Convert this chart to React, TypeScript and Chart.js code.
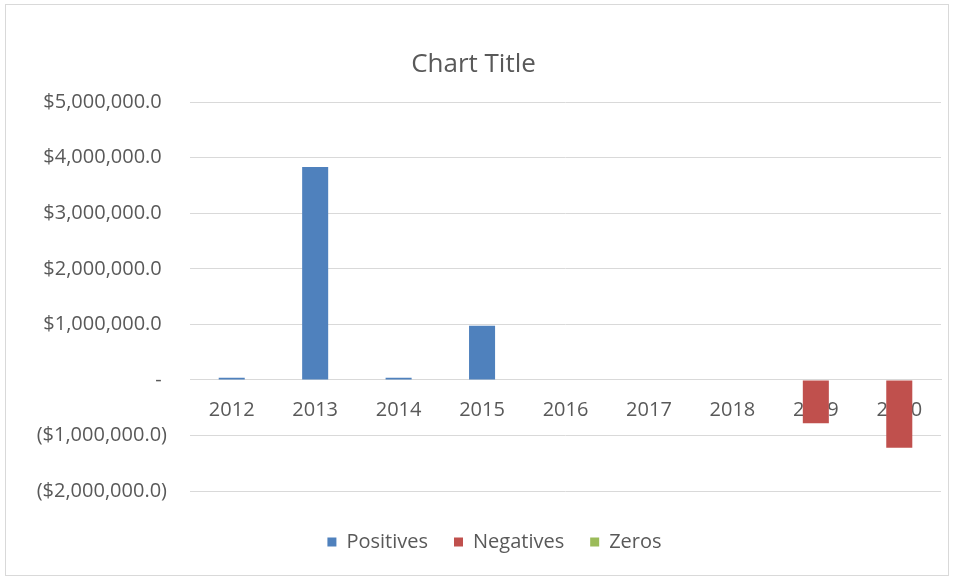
import React, { useEffect, useRef } from "react";
import { Chart, registerables } from "chart.js";

Chart.register(...registerables);

const categories = ["2012", "2013", "2014", "2015", "2016", "2017", "2018", "2019", "2020"];
const positives = [40000, 3835000, 40000, 975000, 0, 0, 0, 0, 0];
const negatives = [0, 0, 0, 0, 0, 0, 0, -780000, -1220000];
const zeros = [0, 0, 0, 0, 0, 0, 0, 0, 0];
const yMin = -2000000;
const yMax = 5000000;
const yStep = 1000000;

const TEXT = "#595959";
const GRID = "#d9d9d9";
const FONT = "'Open Sans', sans-serif";

function fmt(v: number): string {
  if (v === 0) return "- ";
  const s = "$" + Math.abs(v).toLocaleString("en-US", { minimumFractionDigits: 1, maximumFractionDigits: 1 });
  return v < 0 ? "(" + s + ")" : s + " ";
}

const shiftLegend = {
  id: "shiftLegend",
  afterLayout(chart: any) {
    const l = chart.legend;
    if (l) {
      l.left += 21;
      l.right += 21;
    }
  },
};

export default function App() {
  const ref = useRef<HTMLCanvasElement | null>(null);
  useEffect(() => {
    if (!ref.current) return;
    Chart.defaults.font.family = FONT;
    const chart = new Chart(ref.current, {
      type: "bar",
      data: {
        labels: categories,
        datasets: [
          { label: "Positives", data: positives, backgroundColor: "#4F81BD", barPercentage: 0.39, categoryPercentage: 0.8 },
          { label: "Negatives", data: negatives, backgroundColor: "#C0504D", barPercentage: 0.39, categoryPercentage: 0.8 },
          { label: "Zeros", data: zeros, backgroundColor: "#9BBB59", barPercentage: 0.39, categoryPercentage: 0.8 },
        ],
      },
      options: {
        animation: false,
        responsive: false,
        maintainAspectRatio: false,
        layout: { padding: { left: 0, right: 7, top: 0, bottom: 13 } },
        scales: {
          x: {
            stacked: true,
            position: { y: 0 } as any,
            grid: { display: false, drawTicks: false },
            border: { display: true, color: GRID, width: 1 },
            ticks: { color: TEXT, font: { size: 20 }, padding: 18, maxRotation: 0, autoSkip: false },
          },
          spacer: {
            type: "category",
            position: "bottom",
            grid: { display: false, drawTicks: false },
            border: { display: false },
            ticks: { display: false },
            afterFit: (s: any) => { s.height = 15; },
          } as any,
          y: {
            stacked: true,
            min: yMin,
            max: yMax,
            grid: { color: GRID, drawTicks: false },
            border: { display: false },
            ticks: { stepSize: yStep, color: TEXT, font: { size: 20 }, padding: 23, callback: (v: any) => fmt(Number(v)) },
            afterFit: (s: any) => { s.width = 184; },
          },
        },
        plugins: {
          title: {
            display: true,
            text: "Chart Title",
            color: TEXT,
            font: { size: 26, weight: "normal" as any },
            padding: { top: 44, bottom: 22 },
          },
          legend: {
            position: "bottom",
            labels: { boxWidth: 9, boxHeight: 9, color: TEXT, font: { size: 20 }, padding: 26 },
          },
          tooltip: { enabled: false },
        },
      },
      plugins: [shiftLegend],
    });
    return () => chart.destroy();
  }, []);
  return (
    <div style={{ position: "fixed", left: 0, top: 0, width: 959, height: 579, background: "#fff" }}>
      <div style={{ position: "absolute", left: 5, top: 4, width: 944, height: 572, border: "1px solid #d9d9d9", boxSizing: "border-box" }}>
        <canvas ref={ref} width={942} height={570} style={{ display: "block", width: 942, height: 570 }} />
      </div>
    </div>
  );
}
